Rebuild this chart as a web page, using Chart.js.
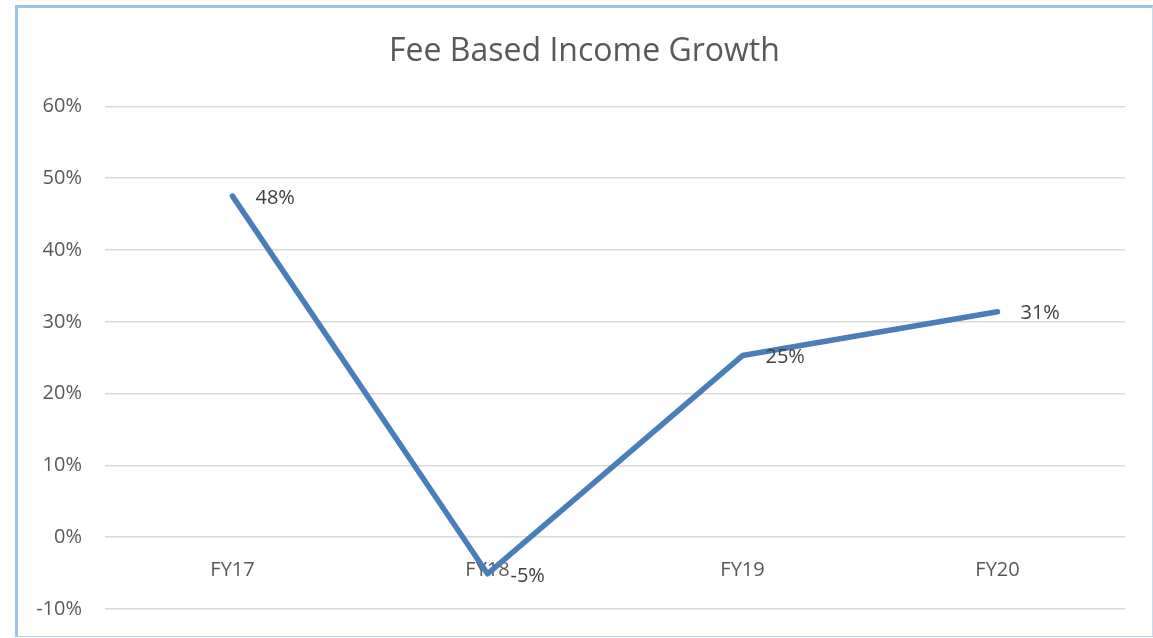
<!DOCTYPE html>
<html>
<head>
<meta charset="utf-8">
<script src="https://cdn.jsdelivr.net/npm/chart.js@4.4.0/dist/chart.umd.min.js"></script>
<style>
  html, body { margin: 0; padding: 0; background: #fff; }
  #wrap { position: relative; width: 1153px; height: 638px; overflow: hidden; }
  #frame {
    position: absolute; left: 15px; top: 5px; right: 0px; bottom: 1px;
    border-left: 3px solid #9dc3e6; border-top: 3px solid #9dc3e6;
    border-right: 1px solid #c9ddf0; border-bottom: 1px solid #b7cfe6;
  }
  #mycanvas { position: absolute; left: 0; top: 0; }
</style>
</head>
<body>
<div id="wrap">
  <div id="frame"></div>
  <canvas id="mycanvas" width="1153" height="638"></canvas>
</div>
<script>
var years = ['FY17', 'FY18', 'FY19', 'FY20'];
var growth = [47.5, -5.1, 25.3, 31.4];
var growthLabels = ['48%', '-5%', '25%', '31%'];
var yTicks = [-10, 0, 10, 20, 30, 40, 50, 60];

var FONT = "'Open Sans', 'Noto Sans', sans-serif";

// point labels to the right of each point, like excel
var pointLabels = {
	id: 'pointLabels',
	afterLayout: function(chart) {
		// title sits a bit right of canvas centre in the original
		if (chart.titleBlock) {
			chart.titleBlock.left += 12;
			chart.titleBlock.right += 12;
		}
	},
	afterDatasetsDraw: function(chart) {
		var ctx = chart.ctx;
		var meta = chart.getDatasetMeta(0);
		ctx.save();
		ctx.font = '20px ' + FONT;
		ctx.fillStyle = '#404040';
		ctx.textAlign = 'left';
		ctx.textBaseline = 'middle';
		for (var i = 0; i < meta.data.length; i++) {
			var pt = meta.data[i];
			ctx.fillText(growthLabels[i], pt.x + 23, pt.y + 2);
		}
		ctx.restore();
	}
};

var chartdata = {
	labels: years,
	datasets: [
		{
			label: 'Growth',
			data: growth,
			borderColor: '#4a7ebb',
			backgroundColor: '#4a7ebb',
			borderWidth: 5.5,
			pointRadius: 0,
			tension: 0,
			borderCapStyle: 'round',
			borderJoinStyle: 'round'
		}
	]
};

var ctx = document.getElementById('mycanvas');

var lineGraph = new Chart(ctx, {
	type: 'line',
	data: chartdata,
	plugins: [pointLabels],
	options: {
		responsive: false,
		animation: false,
		layout: { padding: { left: 20, right: 28, top: 0, bottom: 29 } },
		plugins: {
			legend: { display: false },
			tooltip: { enabled: false },
			title: {
				display: true,
				text: 'Fee Based Income Growth',
				color: '#595959',
				font: { family: FONT, size: 32, weight: 'normal' },
				padding: { top: 33, bottom: 35 }
			}
		},
		scales: {
			x: {
				position: { y: 0 },
				offset: true,
				grid: { display: false, drawTicks: false },
				border: { display: false },
				ticks: {
					color: '#595959',
					padding: 21,
					font: { family: FONT, size: 20 },
					maxRotation: 0
				}
			},
			y: {
				min: -10,
				max: 60,
				afterBuildTicks: function(scale) {
					scale.ticks = yTicks.map(function(v) { return { value: v }; });
				},
				afterFit: function(scale) {
					scale.width = 85;
					scale.paddingTop = 0;
					scale.paddingBottom = 0;
				},
				grid: { color: '#d9d9d9', lineWidth: 1.5, drawTicks: false },
				border: { display: false },
				ticks: {
					color: '#595959',
					padding: 23,
					font: { family: FONT, size: 20 },
					callback: function(v) { return v + '%'; }
				}
			}
		}
	}
});
</script>
</body>
</html>
